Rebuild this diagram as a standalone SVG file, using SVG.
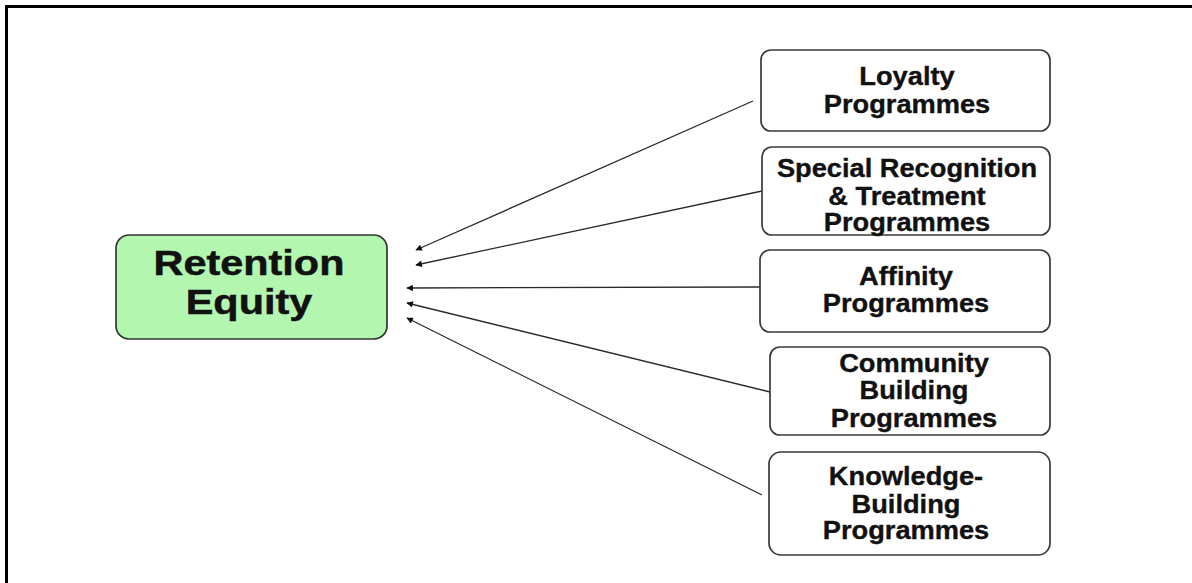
<svg xmlns="http://www.w3.org/2000/svg" width="1192" height="583" viewBox="0 0 1192 583">
<style>
.box{fill:#ffffff;stroke:#3a3a3a;stroke-width:1.7}
.main{fill:#b3f6b0;stroke:#333333;stroke-width:1.7}
.t{font-family:"Liberation Sans",Arial,sans-serif;font-weight:bold;font-size:25px;fill:#111111;stroke:#111111;stroke-width:0.35;text-anchor:middle}
.tm{font-family:"Liberation Sans",Arial,sans-serif;font-weight:bold;font-size:36px;fill:#111111;stroke:#111111;stroke-width:0.5;text-anchor:middle}
.c{stroke:#2a2a2a;stroke-width:1.3;fill:none;marker-end:url(#ah)}
</style>
<defs>
<marker id="ah" viewBox="0 0 10 10" refX="9" refY="5" markerWidth="9" markerHeight="6.5" markerUnits="userSpaceOnUse" orient="auto">
<path d="M0,0 L10,5 L0,10 z" fill="#111111"/>
</marker>
</defs>
<rect width="1192" height="583" fill="#ffffff"/>
<g id="frame">
<path d="M1192,6.5 L6.5,6.5 L6.5,583" fill="none" stroke="#000000" stroke-width="3"/>
</g>
<g id="connectors">
<line class="c" x1="753" y1="101" x2="416" y2="250"/>
<line class="c" x1="762" y1="191" x2="416" y2="265"/>
<line class="c" x1="760" y1="287" x2="407" y2="288"/>
<line class="c" x1="770" y1="392" x2="407" y2="303"/>
<line class="c" x1="762" y1="495" x2="407" y2="318"/>
</g>
<g id="retention-equity">
<rect class="main" x="116" y="235" width="271" height="104" rx="13"/>
<g transform="translate(249,0) scale(1.15,1)">
<text class="tm" x="0" y="275">Retention</text>
<text class="tm" x="0" y="314">Equity</text>
</g>
</g>
<g id="loyalty">
<rect class="box" x="761" y="50" width="289" height="81" rx="10"/>
<g transform="translate(907,0) scale(1.09,1)">
<text class="t" x="0" y="85">Loyalty</text>
<text class="t" x="0" y="113">Programmes</text>
</g>
</g>
<g id="special-recognition">
<rect class="box" x="762" y="147" width="288" height="88" rx="10"/>
<g transform="translate(907,0) scale(1.09,1)">
<text class="t" x="0" y="177">Special Recognition</text>
<text class="t" x="0" y="205">&amp; Treatment</text>
<text class="t" x="0" y="231">Programmes</text>
</g>
</g>
<g id="affinity">
<rect class="box" x="760" y="250" width="290" height="82" rx="10"/>
<g transform="translate(906,0) scale(1.09,1)">
<text class="t" x="0" y="285">Affinity</text>
<text class="t" x="0" y="312">Programmes</text>
</g>
</g>
<g id="community-building">
<rect class="box" x="770" y="347" width="280" height="88" rx="10"/>
<g transform="translate(914,0) scale(1.09,1)">
<text class="t" x="0" y="372">Community</text>
<text class="t" x="0" y="399">Building</text>
<text class="t" x="0" y="427">Programmes</text>
</g>
</g>
<g id="knowledge-building">
<rect class="box" x="769" y="452" width="281" height="103" rx="12"/>
<g transform="translate(906,0) scale(1.09,1)">
<text class="t" x="0" y="485">Knowledge-</text>
<text class="t" x="0" y="513">Building</text>
<text class="t" x="0" y="539">Programmes</text>
</g>
</g>
</svg>
